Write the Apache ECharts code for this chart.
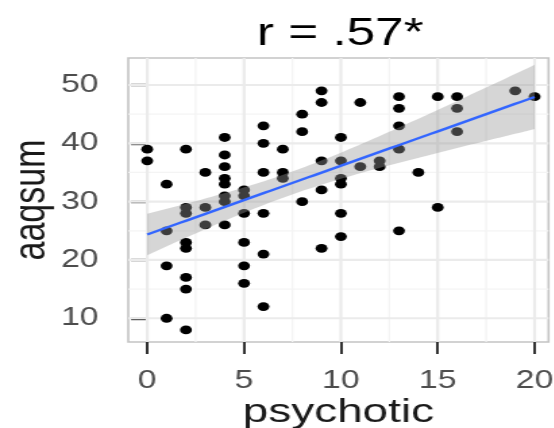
<!DOCTYPE html>
<html>
<head>
<meta charset="utf-8">
<script src="https://cdn.jsdelivr.net/npm/echarts@6/dist/echarts.min.js"></script>
<style>
  html, body { margin: 0; padding: 0; background: #ffffff; overflow: hidden; }
  /* the plot is laid out narrow and widened horizontally */
  #chart { width: 410.4px; height: 428px; transform: scaleX(1.35); transform-origin: 0 0; }
</style>
</head>
<body>
<div id="chart"></div>
<script>
// Observations: psychotic score (x) and aaqsum (y)
const psychotic = [
  0, 0,
  1, 1, 1, 1,
  2, 2, 2, 2, 2, 2, 2, 2,
  3, 3, 3,
  4, 4, 4, 4, 4, 4, 4, 4,
  5, 5, 5, 5, 5, 5,
  6, 6, 6, 6, 6, 6,
  7, 7, 7,
  8, 8, 8,
  9, 9, 9, 9, 9,
  10, 10, 10, 10, 10, 10,
  11, 11,
  12, 12,
  13, 13, 13, 13, 13,
  14,
  15, 15,
  16, 16, 16,
  19,
  20
];
const aaqsum = [
  39, 37,
  33, 25, 19, 10,
  39, 29, 28, 23, 22, 17, 15, 8,
  35, 29, 26,
  41, 38, 36, 34, 33, 31, 30, 26,
  32, 31, 28, 23, 19, 16,
  43, 40, 35, 28, 21, 12,
  39, 35, 34,
  45, 42, 30,
  49, 47, 37, 32, 22,
  41, 37, 34, 33, 28, 24,
  47, 36,
  37, 36,
  48, 46, 43, 39, 25,
  35,
  48, 29,
  48, 46, 42,
  49,
  48
];

const xTicks = [0, 5, 10, 15, 20];
const yTicks = [10, 20, 30, 40, 50];
const xRange = [-0.98, 20.72];
const yRange = [5.93, 54.63];
const titleText = 'r = .57*';
const xName = 'psychotic';
const yName = 'aaqsum';

const FONT = 'Liberation Sans, Arial, Helvetica, sans-serif';

// ---- least-squares line with 95% confidence band ----
const n = psychotic.length;
const mx = psychotic.reduce((a, b) => a + b, 0) / n;
const my = aaqsum.reduce((a, b) => a + b, 0) / n;
let sxx = 0, sxy = 0, syy = 0;
for (let i = 0; i < n; i++) {
  const dx = psychotic[i] - mx, dy = aaqsum[i] - my;
  sxx += dx * dx; sxy += dx * dy; syy += dy * dy;
}
const slope = sxy / sxx;
const intercept = my - slope * mx;
const sRes = Math.sqrt((syy - slope * sxy) / (n - 2));
const tCrit = 1.995; // t(0.975, df = n - 2)
const xLo = Math.min(...psychotic), xHi = Math.max(...psychotic);
const fitX = [], fitY = [], bandLo = [], bandHi = [];
for (let k = 0; k < 80; k++) {
  const x = xLo + (xHi - xLo) * k / 79;
  const y = intercept + slope * x;
  const se = sRes * Math.sqrt(1 / n + (x - mx) * (x - mx) / sxx);
  fitX.push(x); fitY.push(y);
  bandLo.push(y - tCrit * se); bandHi.push(y + tCrit * se);
}

// ---- panel grid lines: major at breaks, minor halfway between ----
function minorOf(ticks, range) {
  const step = ticks[1] - ticks[0];
  const out = [];
  for (let v = ticks[0] - step / 2; v <= range[1]; v += step) {
    if (v >= range[0]) out.push(v);
  }
  return out;
}
const gridDefs = [];
minorOf(xTicks, xRange).forEach(v => gridDefs.push({ axis: 'x', v, major: false }));
minorOf(yTicks, yRange).forEach(v => gridDefs.push({ axis: 'y', v, major: false }));
xTicks.forEach(v => gridDefs.push({ axis: 'x', v, major: true }));
yTicks.forEach(v => gridDefs.push({ axis: 'y', v, major: true }));

const chart = echarts.init(document.getElementById('chart'), null, { renderer: 'canvas' });

chart.setOption({
  animation: false,
  backgroundColor: '#ffffff',
  grid: {
    left: 95, right: 3.7, top: 58, bottom: 86,
    outerBoundsMode: 'none', containLabel: false,
    show: true, backgroundColor: '#ffffff',
    borderColor: '#c4c4c4', borderWidth: 1.6
  },
  graphic: [{
    type: 'text',
    x: 252, y: 35,
    style: {
      text: titleText,
      fontSize: 38, fontFamily: FONT, fill: '#000000',
      textAlign: 'center', textVerticalAlign: 'middle'
    }
  }],
  xAxis: {
    type: 'value', min: xRange[0], max: xRange[1],
    axisLine: { show: false },
    splitLine: { show: false },
    axisTick: { show: true, length: 12, customValues: xTicks, lineStyle: { color: '#333333', width: 2 } },
    axisLabel: { customValues: xTicks, margin: 27, fontSize: 25, fontFamily: FONT, color: '#4d4d4d' },
    name: xName, nameLocation: 'middle', nameGap: 54, nameMoveOverlap: false,
    nameTextStyle: { fontSize: 34, fontFamily: FONT, color: '#1a1a1a' }
  },
  yAxis: {
    type: 'value', min: yRange[0], max: yRange[1],
    axisLine: { show: false },
    splitLine: { show: false },
    axisTick: { show: true, length: 12, customValues: yTicks, lineStyle: { color: '#333333', width: 2.4 } },
    axisLabel: { customValues: yTicks, margin: 22, fontSize: 25, fontFamily: FONT, color: '#4d4d4d' },
    name: yName, nameLocation: 'middle', nameGap: 54, nameRotate: 90, nameMoveOverlap: false,
    nameTextStyle: { fontSize: 34, fontFamily: FONT, color: '#1a1a1a' }
  },
  series: [
    {
      // background grid lines
      type: 'custom', z: 1, silent: true,
      data: gridDefs.map(g => [g.axis === 'x' ? g.v : xRange[0], g.axis === 'y' ? g.v : yRange[0]]),
      renderItem(params, api) {
        const g = gridDefs[params.dataIndex];
        const cs = params.coordSys;
        const style = { stroke: g.major ? '#ebebeb' : '#f4f4f4', lineWidth: g.major ? 2.2 : 1.3 };
        if (g.axis === 'x') {
          const p = api.coord([g.v, yRange[0]]);
          return { type: 'line', shape: { x1: p[0], y1: cs.y, x2: p[0], y2: cs.y + cs.height }, style };
        }
        const p = api.coord([xRange[0], g.v]);
        return { type: 'line', shape: { x1: cs.x, y1: p[1], x2: cs.x + cs.width, y2: p[1] }, style };
      }
    },
    {
      type: 'scatter', z: 2,
      symbol: 'circle', symbolSize: 8.8,
      itemStyle: { color: '#000000', opacity: 1 },
      data: psychotic.map((x, i) => [x, aaqsum[i]])
    },
    {
      // confidence band, drawn over the points
      type: 'custom', z: 3, silent: true,
      data: [[fitX[0], fitY[0]]],
      renderItem(params, api) {
        const upper = fitX.map((x, i) => api.coord([x, bandHi[i]]));
        const lower = fitX.map((x, i) => api.coord([x, bandLo[i]])).reverse();
        return { type: 'polygon', shape: { points: upper.concat(lower) }, style: { fill: 'rgba(153,153,153,0.4)' } };
      }
    },
    {
      type: 'line', z: 4, silent: true,
      symbol: 'none',
      lineStyle: { color: '#3366FF', width: 2.4 },
      data: fitX.map((x, i) => [x, fitY[i]])
    }
  ]
});
</script>
</body>
</html>
